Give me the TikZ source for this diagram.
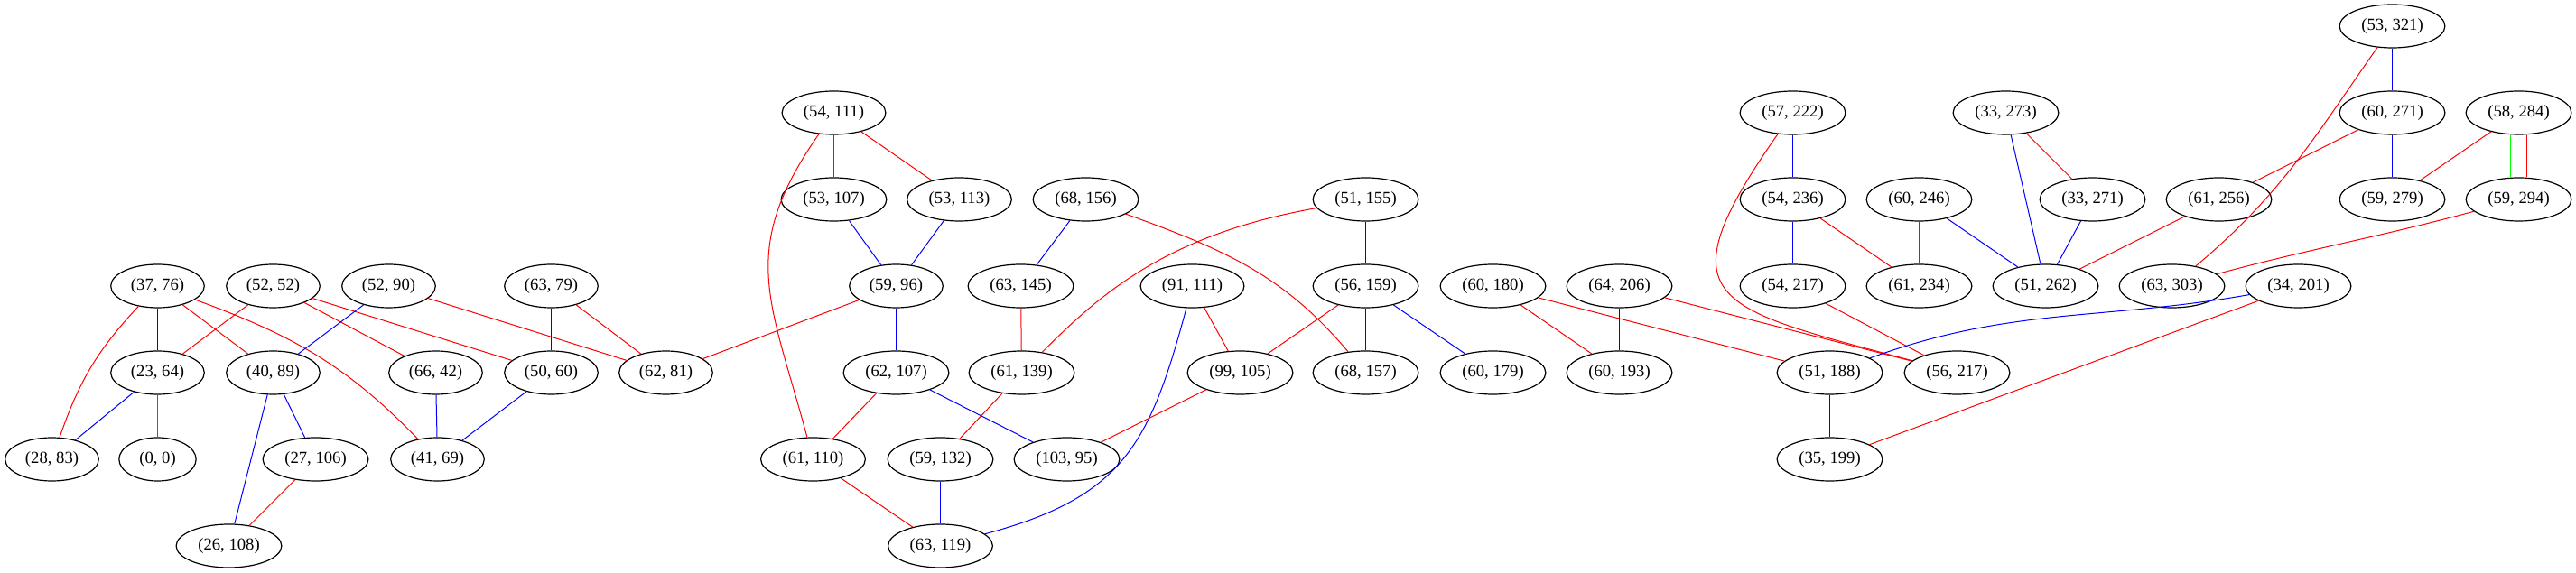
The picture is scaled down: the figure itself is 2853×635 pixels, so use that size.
\documentclass[tikz,border=0pt]{standalone}
\usepackage{fontspec}
\setmainfont{Liberation Serif}
\usetikzlibrary{shapes.geometric}
\definecolor{gvpurple}{RGB}{160,32,240}
\begin{document}
\begin{tikzpicture}[x=0.75pt, y=0.75pt, line width=0.75pt,
		vtx/.style={ellipse, draw, line width=0.9pt, inner xsep=5.3pt, minimum width=64pt, minimum height=36pt, font=\fontsize{14pt}{16pt}\selectfont}]
		\useasboundingbox (0,0) rectangle (2853,635);
	\begin{scope}[xshift=0.375pt]
		\node[vtx] (v53x321) at (2649,606) {(53, 321)};
		\node[vtx] (v54x111) at (923,510) {(54, 111)};
		\node[vtx] (v57x222) at (1985,510) {(57, 222)};
		\node[vtx] (v33x273) at (2221,510) {(33, 273)};
		\node[vtx] (v60x271) at (2649,510) {(60, 271)};
		\node[vtx] (v58x284) at (2789,510) {(58, 284)};
		\node[vtx] (v53x107) at (923,414) {(53, 107)};
		\node[vtx] (v53x113) at (1062,414) {(53, 113)};
		\node[vtx] (v68x156) at (1202,414) {(68, 156)};
		\node[vtx] (v51x155) at (1512,414) {(51, 155)};
		\node[vtx] (v54x236) at (1985,414) {(54, 236)};
		\node[vtx] (v60x246) at (2125,414) {(60, 246)};
		\node[vtx] (v33x271) at (2317,414) {(33, 271)};
		\node[vtx] (v61x256) at (2457,414) {(61, 256)};
		\node[vtx] (v59x279) at (2649,414) {(59, 279)};
		\node[vtx] (v59x294) at (2789,414) {(59, 294)};
		\node[vtx] (v37x76) at (174,318) {(37, 76)};
		\node[vtx] (v52x52) at (302,318) {(52, 52)};
		\node[vtx] (v52x90) at (430,318) {(52, 90)};
		\node[vtx] (v63x79) at (610,318) {(63, 79)};
		\node[vtx] (v59x96) at (992,318) {(59, 96)};
		\node[vtx] (v63x145) at (1130,318) {(63, 145)};
		\node[vtx] (v91x111) at (1320,318) {(91, 111)};
		\node[vtx] (v56x159) at (1512,318) {(56, 159)};
		\node[vtx] (v60x180) at (1653,318) {(60, 180)};
		\node[vtx] (v64x206) at (1793,318) {(64, 206)};
		\node[vtx] (v54x217) at (1985,318) {(54, 217)};
		\node[vtx] (v61x234) at (2125,318) {(61, 234)};
		\node[vtx] (v51x262) at (2265,318) {(51, 262)};
		\node[vtx] (v63x303) at (2405,318) {(63, 303)};
		\node[vtx] (v34x201) at (2545,318) {(34, 201)};
		\node[vtx] (v23x64) at (174,222) {(23, 64)};
		\node[vtx] (v40x89) at (302,222) {(40, 89)};
		\node[vtx] (v66x42) at (482,222) {(66, 42)};
		\node[vtx] (v50x60) at (610,222) {(50, 60)};
		\node[vtx] (v62x81) at (737,222) {(62, 81)};
		\node[vtx] (v62x107) at (992,222) {(62, 107)};
		\node[vtx] (v61x139) at (1131,222) {(61, 139)};
		\node[vtx] (v99x105) at (1373,222) {(99, 105)};
		\node[vtx] (v68x157) at (1512,222) {(68, 157)};
		\node[vtx] (v60x179) at (1653,222) {(60, 179)};
		\node[vtx] (v60x193) at (1793,222) {(60, 193)};
		\node[vtx] (v51x188) at (2026,222) {(51, 188)};
		\node[vtx] (v56x217) at (2167,222) {(56, 217)};
		\node[vtx] (v28x83) at (57,126) {(28, 83)};
		\node[vtx] (v0x0) at (174,126) {(0, 0)};
		\node[vtx] (v27x106) at (349,126) {(27, 106)};
		\node[vtx] (v41x69) at (484,126) {(41, 69)};
		\node[vtx] (v61x110) at (900,126) {(61, 110)};
		\node[vtx] (v59x132) at (1041,126) {(59, 132)};
		\node[vtx] (v103x95) at (1181,126) {(103, 95)};
		\node[vtx] (v35x199) at (2026,126) {(35, 199)};
		\node[vtx] (v26x108) at (253,30) {(26, 108)};
		\node[vtx] (v63x119) at (1041,30) {(63, 119)};
		\draw[blue] (v37x76) -- (v23x64);
		\draw[red] (v37x76) to[bend right=12] (v28x83);
		\draw[red] (v37x76) -- (v40x89);
		\draw[red] (v37x76) to[out=-20, in=134] (v41x69);
		\draw[red] (v52x52) -- (v23x64);
		\draw[red] (v52x52) -- (v66x42);
		\draw[red] (v52x52) -- (v50x60);
		\draw[blue] (v52x90) -- (v40x89);
		\draw[red] (v52x90) -- (v62x81);
		\draw[blue] (v63x79) -- (v50x60);
		\draw[red] (v63x79) -- (v62x81);
		\draw[blue] (v23x64) -- (v28x83);
		\draw[gvpurple] (v23x64) -- (v0x0);
		\draw[blue] (v40x89) -- (v27x106);
		\draw[blue] (v40x89) -- (v26x108);
		\draw[red] (v27x106) -- (v26x108);
		\draw[blue] (v66x42) -- (v41x69);
		\draw[blue] (v50x60) -- (v41x69);
		\draw[red] (v59x96) -- (v62x81);
		\draw[red] (v54x111) -- (v53x107);
		\draw[red] (v54x111) -- (v53x113);
		\draw[red] (v54x111) to[out=-125, in=105, looseness=1.2] (v61x110);
		\draw[blue] (v53x107) -- (v59x96);
		\draw[blue] (v53x113) -- (v59x96);
		\draw[blue] (v68x156) -- (v63x145);
		\draw[red] (v68x156) to[out=-20, in=130] (v68x157);
		\draw[red] (v51x155) to[out=190, in=45, out distance=127pt, in distance=68pt] (v61x139);
		\draw[blue] (v59x96) -- (v62x107);
		\draw[red] (v63x145) -- (v61x139);
		\draw[red] (v91x111) -- (v99x105);
		\draw[blue] (v91x111) to[out=-105, in=15, looseness=1.2] (v63x119);
		\draw[red] (v56x159) -- (v99x105);
		\draw[red] (v62x107) -- (v61x110);
		\draw[blue] (v62x107) -- (v103x95);
		\draw[red] (v61x139) -- (v59x132);
		\draw[red] (v99x105) -- (v103x95);
		\draw[red] (v61x110) -- (v63x119);
		\draw[blue] (v59x132) -- (v63x119);
		\draw[blue] (v51x155) -- (v56x159);
		\draw[blue] (v56x159) -- (v68x157);
		\draw[blue] (v56x159) -- (v60x179);
		\draw[red] (v60x180) -- (v60x179);
		\draw[red] (v60x180) -- (v60x193);
		\draw[red] (v60x180) -- (v51x188);
		\draw[blue] (v64x206) -- (v60x193);
		\draw[red] (v64x206) -- (v56x217);
		\draw[blue] (v57x222) -- (v54x236);
		\draw[red] (v57x222) to[out=-125, in=165, looseness=2] (v56x217);
		\draw[blue] (v54x236) -- (v54x217);
		\draw[red] (v54x236) -- (v61x234);
		\draw[red] (v60x246) -- (v61x234);
		\draw[red] (v54x217) -- (v56x217);
		\draw[blue] (v51x188) -- (v35x199);
		\draw[blue] (v34x201) to[out=190, in=20] (v51x188);
		\draw[red] (v34x201) -- (v35x199);
		\draw[blue] (v53x321) -- (v60x271);
		\draw[red] (v53x321) to[out=-125, in=40] (v63x303);
		\draw[blue] (v33x273) -- (v51x262);
		\draw[red] (v33x273) -- (v33x271);
		\draw[blue] (v60x246) -- (v51x262);
		\draw[blue] (v33x271) -- (v51x262);
		\draw[red] (v61x256) -- (v51x262);
		\draw[red] (v60x271) -- (v61x256);
		\draw[blue] (v60x271) -- (v59x279);
		\draw[red] (v58x284) -- (v59x279);
		\draw[green] ([xshift=-6.4pt]v58x284.south) -- ([xshift=-6.4pt]v59x294.north);
		\draw[red] ([xshift=6.4pt]v58x284.south) -- ([xshift=6.4pt]v59x294.north);
		\draw[red] (v59x294) to[out=195, in=15] (v63x303);
	\end{scope}
	\end{tikzpicture}
\end{document}
